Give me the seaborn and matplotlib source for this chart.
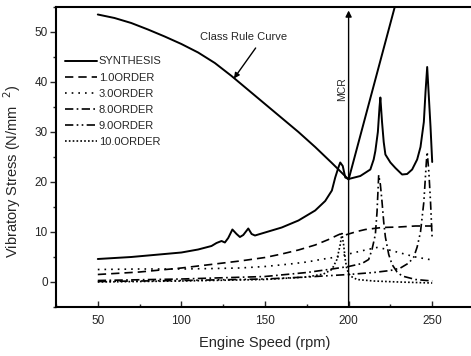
import numpy as np
import pandas as pd
import seaborn as sns
import matplotlib
matplotlib.use("Agg")
import matplotlib.pyplot as plt

# ---------------- data ----------------
synth_rpm = [50, 60, 70, 80, 90, 100, 110, 118, 121, 124, 126, 128, 130.5, 133, 135,
             137, 140, 142, 144, 150, 160, 170, 180, 186, 190, 192, 194, 195, 196.5,
             198, 200, 207, 213, 215, 216, 217.5, 218.5, 219, 220, 221, 222, 225, 228,
             232, 235, 238, 241, 243, 245, 246, 247, 248, 249, 250]
synth_val = [4.6, 4.8, 5.0, 5.3, 5.6, 5.9, 6.5, 7.2, 7.8, 8.2, 7.9, 8.8, 10.5, 9.6, 9.0,
             9.4, 10.7, 9.6, 9.3, 9.9, 10.9, 12.3, 14.3, 16.2, 18.3, 20.9, 23.0, 23.9, 23.2,
             20.9, 20.6, 21.2, 22.5, 24.5, 26.2, 30.0, 35.0, 36.9, 32.0, 28.0, 25.5, 23.9, 22.8,
             21.5, 21.6, 22.5, 24.5, 27.0, 32.0, 38.0, 43.0, 37.0, 31.0, 24.0]

order1_rpm = [50, 75, 100, 120, 135, 150, 160, 170, 180, 188, 193, 195, 197, 200, 205,
              210, 220, 230, 240, 250]
order1_val = [1.5, 2.0, 2.8, 3.6, 4.2, 4.9, 5.6, 6.4, 7.4, 8.5, 9.3, 9.6, 9.3, 9.6, 10.1,
              10.5, 10.9, 11.0, 11.2, 11.2]

order3_rpm = [50, 75, 100, 120, 135, 150, 165, 175, 185, 193, 200, 210, 217, 222, 230, 240, 250]
order3_val = [2.5, 2.6, 2.6, 2.7, 2.8, 3.1, 3.6, 4.0, 4.6, 5.0, 5.6, 6.4, 6.9, 6.6, 5.9, 5.0, 4.4]

order8_rpm = [50, 100, 150, 175, 190, 200, 208, 212, 214, 216, 217, 218, 219, 220, 221,
              222, 224, 226, 229, 232, 240, 250]
order8_val = [0.3, 0.6, 1.1, 1.9, 2.6, 3.1, 3.7, 4.5, 6.5, 9.5, 14.0, 21.4, 19.5, 16.0, 12.0,
              9.0, 5.5, 3.5, 2.0, 1.2, 0.5, 0.2]

order9_rpm = [50, 100, 150, 175, 200, 215, 225, 231, 236, 239, 241, 243, 245, 246.5, 247,
              248, 249, 250]
order9_val = [0.1, 0.3, 0.6, 1.0, 1.5, 1.9, 2.3, 2.8, 3.8, 5.0, 7.0, 10.0, 16.0, 24.0, 26.0,
              22.0, 16.0, 8.5]

order10_rpm = [50, 100, 150, 175, 185, 190, 193, 195, 196, 197, 198, 199, 201, 205, 215, 230, 250]
order10_val = [0.0, 0.2, 0.5, 1.0, 1.6, 2.5, 4.5, 7.5, 9.7, 7.5, 4.5, 2.5, 1.2, 0.5, 0.2, 0.0, -0.2]

rule_rpm = [50, 60, 70, 80, 90, 100, 110, 120, 130, 140, 150, 160, 170, 180, 190, 200, 228]
rule_val = [53.5, 52.8, 51.8, 50.5, 49.1, 47.6, 45.9, 43.8, 41.2, 38.4, 35.6, 32.8, 30.0,
            27.0, 23.8, 20.5, 55.5]

series_labels = ["SYNTHESIS", "1.0ORDER", "3.0ORDER", "8.0ORDER", "9.0ORDER", "10.0ORDER"]
x_ticks = [50, 100, 150, 200, 250]
y_ticks = [0, 10, 20, 30, 40, 50]

# ---------------- plotting ----------------
sns.set_theme(style="ticks")
plt.rcParams["font.family"] = ["Liberation Sans", "DejaVu Sans"]

fig = plt.figure(figsize=(4.71, 3.56), dpi=100)
ax = fig.add_axes([56 / 471, 49 / 356, 418 / 471, 300 / 356])

styles = [
    "-",
    (0, (5, 3)),
    (0, (1, 3)),
    (0, (5, 2, 1, 2)),
    (0, (5, 2, 1, 2, 1, 2)),
    (0, (1, 1.3)),
]
data = [(synth_rpm, synth_val), (order1_rpm, order1_val), (order3_rpm, order3_val),
        (order8_rpm, order8_val), (order9_rpm, order9_val), (order10_rpm, order10_val)]

for (xs, ys), lab, ls in zip(data, series_labels, styles):
    df = pd.DataFrame({"rpm": xs, "val": ys})
    sns.lineplot(data=df, x="rpm", y="val", ax=ax, color="black", linestyle=ls,
                 linewidth=1.4 if lab == "SYNTHESIS" else 1.2, label=lab,
                 estimator=None, errorbar=None, sort=False)

rule_df = pd.DataFrame({"rpm": rule_rpm, "val": rule_val})
sns.lineplot(data=rule_df, x="rpm", y="val", ax=ax, color="black", linewidth=1.4,
             estimator=None, errorbar=None, sort=False, legend=False)

ax.set_xlim(25, 275)
ax.set_ylim(-5, 55)
ax.set_xticks(x_ticks)
ax.set_yticks(y_ticks)
ax.set_xticks([25, 75, 125, 175, 225, 275], minor=True)
ax.set_yticks([-5, 5, 15, 25, 35, 45, 55], minor=True)
ax.tick_params(axis="x", which="major", direction="in", length=4, width=1.0, labelsize=8.5, pad=6)
ax.tick_params(axis="x", which="minor", direction="in", length=2, width=1.0)
ax.tick_params(axis="y", which="major", direction="out", length=4, width=1.0, labelsize=8.5, pad=2)
ax.tick_params(axis="y", which="minor", direction="out", length=2, width=1.0)
for sp in ax.spines.values():
    sp.set_linewidth(1.5)
    sp.set_color("black")

ax.set_xlabel("Engine Speed (rpm)", fontsize=10.5, labelpad=6)
ax.set_ylabel(r"Vibratory Stress (N/mm  $^{2}$)", fontsize=10.5)
ax.yaxis.set_label_coords(-0.079, 0.453)

# MCR vertical arrow
ax.annotate("", xy=(200, 54.3), xytext=(200, -5),
            arrowprops=dict(arrowstyle="-|>", color="black", lw=1.0, mutation_scale=9,
                            shrinkA=0, shrinkB=0))
ax.text(196.3, 38.5, "MCR", rotation=90, ha="center", va="center", fontsize=7.5)

# Class rule curve annotation
ax.text(111, 49, "Class Rule Curve", ha="left", va="center", fontsize=8)
ax.annotate("", xy=(131.4, 40.7), xytext=(144.4, 46.8),
            arrowprops=dict(arrowstyle="-|>", color="black", lw=1.0, mutation_scale=8,
                            shrinkA=0, shrinkB=0))

leg = ax.legend(loc="upper left", bbox_to_anchor=(0.011, 0.85), borderaxespad=0,
                frameon=False, fontsize=8, handlelength=2.9, handletextpad=0.15,
                labelspacing=0.55)

fig.savefig("out.png", dpi=100)
